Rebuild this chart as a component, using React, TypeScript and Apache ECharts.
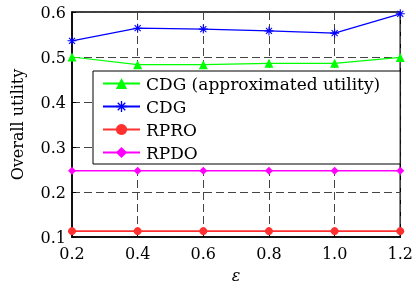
import React, { useEffect, useRef } from "react";
import * as echarts from "echarts";

const categories = ["0.2", "0.4", "0.6", "0.8", "1.0", "1.2"];
const cdgApprox = [0.5, 0.483, 0.483, 0.486, 0.486, 0.499];
const cdg = [0.536, 0.564, 0.562, 0.558, 0.553, 0.596];
const rpro = [0.113, 0.113, 0.113, 0.113, 0.113, 0.113];
const rpdo = [0.247, 0.247, 0.247, 0.247, 0.247, 0.247];

const seriesNames = ["CDG (approximated utility)", "CDG", "RPRO", "RPDO"];

const asterisk =
  "path://M4.4 0 H5.6 V10 H4.4 Z M0 4.4 H10 V5.6 H0 Z M1.2 2.05 L2.05 1.2 L8.8 7.95 L7.95 8.8 Z M7.95 1.2 L8.8 2.05 L2.05 8.8 L1.2 7.95 Z";

const FONT = "DejaVu Serif, serif";

export default function App() {
  const ref = useRef<HTMLDivElement>(null);
  useEffect(() => {
    if (!ref.current) return;
    const chart = echarts.init(ref.current, null, { renderer: "svg" });
    const mk = (name: string, data: number[], color: string, symbol: string, size: number, width: number) => ({
      name,
      type: "line",
      data,
      symbol,
      symbolSize: size,
      lineStyle: { color, width },
      itemStyle: { color },
      z: 3,
    });
    chart.setOption({
      animation: false,
      textStyle: { fontFamily: FONT },
      grid: {
        left: 72,
        right: 14,
        top: 12,
        bottom: 51,
        show: true,
        borderColor: "#000",
        borderWidth: 1.5,
      },
      legend: {
        orient: "vertical",
        left: 93,
        top: 71,
        data: seriesNames,
        backgroundColor: "#fff",
        borderColor: "#000",
        borderWidth: 1,
        borderRadius: 0,
        padding: [4, 20, 3, 9],
        itemWidth: 37,
        itemHeight: 14,
        itemGap: 6,
        textStyle: { fontFamily: FONT, fontSize: 17, color: "#000", padding: [0, 0, 0, 1] },
        z: 10,
      },
      xAxis: {
        type: "category",
        data: categories,
        boundaryGap: false,
        name: "ε",
        nameLocation: "middle",
        nameGap: 30,
        nameTextStyle: { fontFamily: FONT, fontSize: 16, fontStyle: "italic", color: "#000" },
        axisLine: { lineStyle: { color: "#000", width: 1.5 } },
        axisTick: { inside: true, length: 4, lineStyle: { color: "#000" } },
        axisLabel: { fontFamily: FONT, fontSize: 16, color: "#000", margin: 8 },
        splitLine: { show: true, lineStyle: { color: "#444", type: [8, 4], width: 1 } },
      },
      yAxis: {
        type: "value",
        min: 0.1,
        max: 0.6,
        interval: 0.1,
        name: "Overall utility",
        nameLocation: "middle",
        nameGap: 47,
        nameRotate: 90,
        nameTextStyle: { fontFamily: FONT, fontSize: 16, color: "#000" },
        axisLine: { show: true, lineStyle: { color: "#000", width: 1.5 } },
        axisTick: { show: true, inside: true, length: 4, lineStyle: { color: "#000" } },
        axisLabel: {
          fontFamily: FONT,
          fontSize: 16,
          color: "#000",
          margin: 6,
          formatter: (v: number) => v.toFixed(1),
        },
        splitLine: { show: true, lineStyle: { color: "#444", type: [8, 4], width: 1 } },
      },
      series: [
        mk(seriesNames[0], cdgApprox, "#00ff00", "triangle", 9, 1.2),
        mk(seriesNames[1], cdg, "#0000ff", asterisk, 9, 1.2),
        mk(seriesNames[2], rpro, "#ff3030", "circle", 8, 1.8),
        mk(seriesNames[3], rpdo, "#ff00ff", "diamond", 8, 1.5),
      ],
    });
    return () => chart.dispose();
  }, []);
  return (
    <div
      ref={ref}
      style={{ position: "fixed", left: 0, top: 0, width: 416, height: 288 }}
    />
  );
}
